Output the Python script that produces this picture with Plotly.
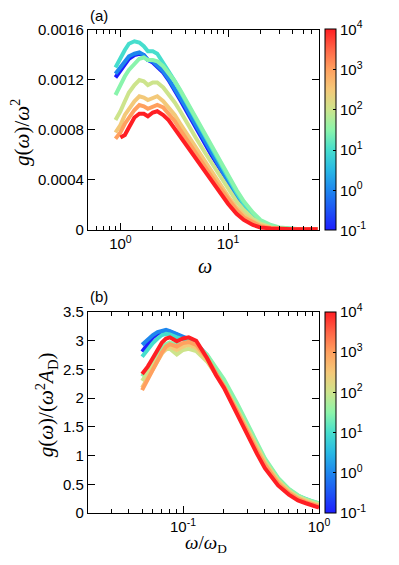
import math

import plotly.graph_objects as go
from plotly.colors import sample_colorscale

# parameter value of each curve (colour axis, 10^-1 .. 10^4)
T_VALUES = [0.1, 1, 10, 30, 100, 300, 1000, 10000]

# panel (a): g(w)/w^2 against w
OMEGA = [0.9, 1.0, 1.1, 1.2, 1.35, 1.5, 1.65, 1.8, 2.0, 2.2, 2.5, 2.8, 3.2, 3.6, 4.0, 4.5,
         5.0, 6.0, 7.0, 8.0, 9.0, 10, 12, 14, 17, 20, 25, 30, 40, 50, 68]
gA_blue = [0.00122, 0.00128, 0.00133, 0.00137, 0.00140, 0.00141, 0.00140, 0.00136, 0.00134, 0.00131,
           0.00126, 0.00120, 0.00112, 0.00104, 0.00097, 0.00089, 0.00082, 0.00070, 0.00060, 0.00052,
           0.00045, 0.00038, 0.00027, 0.00019, 0.00011, 0.00006, 0.000025, 0.000012, 0.000005, 0.000003, 0.000003]
gA_cyan = [0.00125, 0.00130, 0.00135, 0.00139, 0.00141, 0.00142, 0.00140, 0.00136, 0.00135, 0.00132,
           0.00127, 0.00121, 0.00113, 0.00106, 0.00099, 0.00091, 0.00084, 0.00072, 0.00062, 0.00054,
           0.00046, 0.00039, 0.00028, 0.00020, 0.00012, 0.000065, 0.000028, 0.000013, 0.000005, 0.000003, 0.000003]
gA_aqua = [0.00130, 0.00138, 0.00144, 0.00149, 0.00151, 0.00150, 0.00147, 0.00143, 0.00143, 0.00141,
           0.00134, 0.00127, 0.00119, 0.00111, 0.00103, 0.00095, 0.00088, 0.00076, 0.00065, 0.00056,
           0.00048, 0.00041, 0.00030, 0.00021, 0.00012, 0.00007, 0.00003, 0.000015, 0.000006, 0.000004, 0.000003]
gA_green = [0.00108, 0.00116, 0.00123, 0.00128, 0.00133, 0.00137, 0.00138, 0.00136, 0.00136, 0.00135,
            0.00131, 0.00126, 0.00119, 0.00112, 0.00105, 0.00097, 0.00090, 0.00078, 0.00067, 0.00058,
            0.00050, 0.00043, 0.00032, 0.00023, 0.00014, 0.00008, 0.00004, 0.00002, 0.000007, 0.000004, 0.000003]
gA_yellow = [0.00088, 0.00095, 0.00103, 0.00110, 0.00116, 0.00120, 0.00119, 0.00116, 0.00118, 0.00118,
             0.00114, 0.00109, 0.00102, 0.00095, 0.00088, 0.00081, 0.00074, 0.00063, 0.00054, 0.00046,
             0.00039, 0.00033, 0.00023, 0.00016, 0.00009, 0.00005, 0.00002, 0.00001, 0.000005, 0.000003, 0.000003]
gA_lorange = [0.00078, 0.00084, 0.00092, 0.00097, 0.00103, 0.00107, 0.00106, 0.00104, 0.00106, 0.00107,
              0.00103, 0.00098, 0.00092, 0.00085, 0.00079, 0.00072, 0.00066, 0.00055, 0.00046, 0.00039,
              0.00033, 0.00027, 0.00018, 0.00012, 0.00007, 0.00004, 0.000018, 0.00001, 0.000006, 0.000005, 0.000005]
gA_orange = [0.00073, 0.00078, 0.00085, 0.00090, 0.00096, 0.00100, 0.00099, 0.00097, 0.00099, 0.00100,
             0.00098, 0.00093, 0.00087, 0.00080, 0.00074, 0.00068, 0.00062, 0.00051, 0.00043, 0.00036,
             0.00030, 0.00025, 0.00016, 0.00010, 0.00006, 0.00003, 0.000015, 0.000009, 0.000006, 0.000006, 0.000006]
gA_red = [None, 0.00074, 0.00076, 0.00082, 0.00090, 0.00093, 0.00093, 0.00091, 0.00094, 0.00095,
          0.00092, 0.00088, 0.00081, 0.00074, 0.00069, 0.00063, 0.00057, 0.00047, 0.00039, 0.00032,
          0.00026, 0.00021, 0.00013, 0.00008, 0.00004, 0.00002, 0.000012, 0.000008, 0.000006, 0.000006, 0.000006]

# panel (b): g(w)/(w^2 A_D) against w/w_D
X_B = [0.05, 0.055, 0.06, 0.065, 0.07, 0.075, 0.08, 0.09, 0.1, 0.11, 0.125, 0.15, 0.175, 0.2,
       0.25, 0.3, 0.35, 0.4, 0.5, 0.6, 0.7, 0.8, 0.9, 1.0]
gB_blue = [2.81, 2.95, 3.06, 3.12, 3.16, 3.17, 3.16, 3.11, 3.05, 3.02, 2.94, 2.74, 2.49, 2.27,
           1.84, 1.46, 1.15, 0.90, 0.57, 0.39, 0.28, 0.22, 0.18, 0.15]
gB_cyan = [2.93, 3.02, 3.10, 3.15, 3.18, 3.19, 3.17, 3.12, 3.06, 3.03, 2.95, 2.75, 2.50, 2.28,
           1.85, 1.47, 1.16, 0.91, 0.58, 0.40, 0.29, 0.23, 0.19, 0.16]
gB_aqua = [2.72, 2.85, 2.96, 3.04, 3.10, 3.12, 3.11, 3.06, 3.02, 3.00, 2.93, 2.74, 2.50, 2.30,
           1.88, 1.50, 1.19, 0.93, 0.60, 0.41, 0.30, 0.24, 0.20, 0.17]
gB_green = [2.38, 2.52, 2.66, 2.78, 2.88, 2.94, 2.97, 2.93, 2.96, 2.97, 2.93, 2.76, 2.53, 2.33,
            1.91, 1.53, 1.21, 0.95, 0.61, 0.42, 0.31, 0.24, 0.20, 0.17]
gB_yellow = [2.30, 2.45, 2.58, 2.70, 2.80, 2.85, 2.86, 2.76, 2.84, 2.86, 2.82, 2.64, 2.42, 2.22,
             1.81, 1.45, 1.14, 0.90, 0.57, 0.39, 0.28, 0.22, 0.18, 0.15]
gB_lorange = [2.18, 2.35, 2.52, 2.66, 2.78, 2.86, 2.90, 2.84, 2.90, 2.93, 2.88, 2.66, 2.42, 2.21,
              1.79, 1.42, 1.11, 0.87, 0.55, 0.37, 0.26, 0.20, 0.16, 0.13]
gB_orange = [2.14, 2.32, 2.50, 2.67, 2.80, 2.90, 2.94, 2.90, 2.96, 2.98, 2.93, 2.70, 2.44, 2.21,
             1.77, 1.39, 1.08, 0.84, 0.52, 0.35, 0.25, 0.19, 0.15, 0.12]
gB_red = [2.42, 2.55, 2.70, 2.85, 2.97, 3.04, 3.06, 2.99, 3.04, 3.06, 3.00, 2.70, 2.40, 2.18,
          1.72, 1.33, 1.03, 0.78, 0.48, 0.32, 0.22, 0.17, 0.125, 0.095]

# tick labels
YA_TICKS = [0, 0.0004, 0.0008, 0.0012, 0.0016]
YA_LABELS = ["0", "0.0004", "0.0008", "0.0012", "0.0016"]
CB_TICKS = [-1, 0, 1, 2, 3, 4]
CB_LABELS = ["10<sup>-1</sup>", "10<sup>0</sup>", "10<sup>1</sup>",
             "10<sup>2</sup>", "10<sup>3</sup>", "10<sup>4</sup>"]

CSCALE = [
    [0.0, "rgb(30,30,255)"],
    [0.1, "rgb(30,85,245)"],
    [0.2, "rgb(30,135,238)"],
    [0.3, "rgb(40,185,228)"],
    [0.4, "rgb(70,222,205)"],
    [0.5, "rgb(140,245,170)"],
    [0.6, "rgb(205,228,140)"],
    [0.7, "rgb(245,200,120)"],
    [0.8, "rgb(255,160,95)"],
    [0.9, "rgb(255,100,70)"],
    [1.0, "rgb(255,30,35)"],
]

SANS = "Liberation Sans, Arial, sans-serif"
SERIF = "Liberation Serif, DejaVu Serif, serif"

curves_a = [gA_blue, gA_cyan, gA_aqua, gA_green, gA_yellow, gA_lorange, gA_orange, gA_red]
curves_b = [gB_blue, gB_cyan, gB_aqua, gB_green, gB_yellow, gB_lorange, gB_orange, gB_red]

fig = go.Figure()

for t, ya, yb in zip(T_VALUES, curves_a, curves_b):
    frac = (math.log10(t) + 1) / 5
    col = sample_colorscale(CSCALE, [frac])[0]
    fig.add_trace(go.Scatter(x=OMEGA, y=ya, mode="lines", line=dict(color=col, width=4),
                             xaxis="x", yaxis="y", showlegend=False, hoverinfo="skip"))
    fig.add_trace(go.Scatter(x=X_B, y=yb, mode="lines", line=dict(color=col, width=4),
                             xaxis="x2", yaxis="y2", showlegend=False, hoverinfo="skip"))


def cbar(ycenter):
    return dict(
        x=1.026, xanchor="left", xpad=0,
        y=ycenter, yanchor="middle", ypad=0,
        len=201, lenmode="pixels",
        thickness=11, thicknessmode="pixels",
        outlinewidth=1, outlinecolor="black",
        tickvals=CB_TICKS, ticktext=CB_LABELS,
        ticks="inside", ticklen=3, tickcolor="black",
        tickfont=dict(family=SANS, size=15, color="black"),
    )


for xa, ya, yc in [("x", "y", 0.793), ("x2", "y2", 0.208)]:
    fig.add_trace(go.Scatter(
        x=[None], y=[None], mode="markers", xaxis=xa, yaxis=ya, showlegend=False,
        marker=dict(color=[0], colorscale=CSCALE, cmin=-1, cmax=4, showscale=True,
                    colorbar=cbar(yc)),
        hoverinfo="skip"))

axis_style = dict(
    showline=True, linecolor="black", linewidth=1.3, mirror="ticks",
    ticks="inside", ticklen=7, tickwidth=1, tickcolor="black",
    showgrid=False, zeroline=False, automargin=False,
    tickfont=dict(family=SANS, size=15, color="black"),
)
minor_log = dict(ticks="inside", ticklen=3.5, tickwidth=1, tickcolor="black",
                 dtick="D1", showgrid=False)

# the page body adds an 8px margin, so the figure is 8px smaller than the window
fig.update_layout(
    width=391, height=549,
    margin=dict(l=80, r=80, t=22, b=44, autoexpand=False),
    plot_bgcolor="white", paper_bgcolor="white",
    xaxis=dict(type="log", range=[math.log10(0.5), math.log10(70)], domain=[0, 1],
               anchor="y", tickvals=[1, 10], ticktext=["10<sup>0</sup>", "10<sup>1</sup>"],
               minor=minor_log, **axis_style),
    yaxis=dict(range=[0, 0.0016], domain=[0.586, 1], anchor="x",
               tickvals=YA_TICKS, ticktext=YA_LABELS, **axis_style),
    xaxis2=dict(type="log", range=[math.log10(0.02), 0], domain=[0, 1],
                anchor="y2", tickvals=[0.1, 1], ticktext=["10<sup>-1</sup>", "10<sup>0</sup>"],
                minor=minor_log, **axis_style),
    yaxis2=dict(range=[0, 3.5], domain=[0, 0.416], anchor="x2", dtick=0.5, **axis_style),
)

ytitle_font = dict(family=SERIF, size=21, color="black")
xtitle_font = dict(family=SERIF, size=20, color="black")
notes = [
    dict(x=0, y=1.029, text="(a)", xanchor="left", yanchor="middle",
         font=dict(family=SANS, size=15, color="black")),
    dict(x=0, y=0.449, text="(b)", xanchor="left", yanchor="middle",
         font=dict(family=SANS, size=15, color="black")),
    dict(x=-0.29, y=0.787, text="<i>g</i>(<i>ω</i>)/<i>ω</i><sup>2</sup>", textangle=-90,
         xanchor="center", yanchor="middle", font=ytitle_font),
    dict(x=-0.18, y=0.224, text="<i>g</i>(<i>ω</i>)/(<i>ω</i><sup>2</sup><i>A</i><sub>D</sub>)",
         textangle=-90, xanchor="center", yanchor="middle", font=ytitle_font),
    dict(x=0.506, y=0.511, text="<i>ω</i>", xanchor="center", yanchor="middle", font=xtitle_font),
    dict(x=0.511, y=-0.064, text="<i>ω</i>/<i>ω</i><sub>D</sub>", xanchor="center",
         yanchor="middle", font=dict(family=SERIF, size=19, color="black")),
]
for n in notes:
    fig.add_annotation(xref="paper", yref="paper", showarrow=False, **n)

fig.write_html("out.html")
